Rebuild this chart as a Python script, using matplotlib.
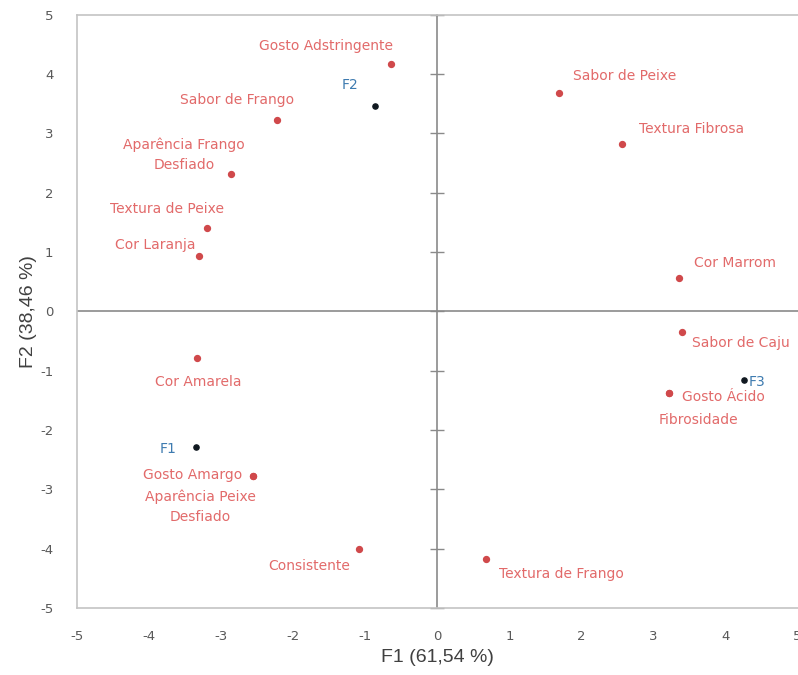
import matplotlib.pyplot as plt
import numpy as np

plt.rcParams['axes.unicode_minus'] = False

# Atributos sensoriais (pontos vermelhos)
atributos = ['Gosto Adstringente', 'Sabor de Frango', 'Aparência Frango\nDesfiado',
             'Textura de Peixe', 'Cor Laranja', 'Sabor de Peixe', 'Textura Fibrosa',
             'Cor Marrom', 'Sabor de Caju', 'Gosto Ácido', 'Fibrosidade',
             'Cor Amarela', 'Gosto Amargo', 'Aparência Peixe\nDesfiado',
             'Consistente', 'Textura de Frango']
atrib_f1 = [-0.64, -2.22, -2.86, -3.19, -3.31, 1.69, 2.56, 3.36, 3.40, 3.22, 3.22,
            -3.33, -2.56, -2.56, -1.08, 0.68]
atrib_f2 = [4.17, 3.22, 2.31, 1.40, 0.93, 3.69, 2.82, 0.56, -0.35, -1.38, -1.38,
            -0.79, -2.78, -2.78, -4.01, -4.17]

# Formulações (pontos pretos)
amostras = ['F1', 'F2', 'F3']
amostra_f1 = [-3.35, -0.86, 4.25]
amostra_f2 = [-2.28, 3.46, -1.15]

# deslocamento dos rótulos (pontos)
desloc_atrib = [(-47, 13), (-29, 15), (-34, 14), (-29, 14), (-31, 8), (47, 12),
                (50, 11), (40, 11), (42, -8), (39, -3), (21, -19),
                (1, -17), (-43, 1), (-38, -22), (-36, -12), (54, -11)]
desloc_amostra = [(-20, -2), (-18, 15), (10, -2)]

fig = plt.figure(figsize=(7.98, 6.75), dpi=100)
ax = fig.add_axes([0.0965, 0.0993, 0.903, 0.8787])

ax.set_xlim(-5, 5)
ax.set_ylim(-5, 5)
ax.set_xticks(np.arange(-5, 6, 1))
ax.set_yticks(np.arange(-5, 6, 1))

moldura = '#c4c4c4'
centro = '#8a8a8a'
for s in ['left', 'top', 'bottom']:
    ax.spines[s].set_color(moldura)
    ax.spines[s].set_linewidth(1.2)
# eixo vertical central com marcas
ax.spines['right'].set_position(('data', 0))
ax.spines['right'].set_color(centro)
ax.spines['right'].set_linewidth(1.2)
ax.axhline(0, color=centro, lw=1.2, zorder=1)

ax.tick_params(axis='y', left=False, right=True, labelleft=True, labelright=False,
               direction='inout', length=10, width=1.0, color=centro,
               labelsize=9.5, labelcolor='#595959', pad=12)
ax.tick_params(axis='x', bottom=False, labelsize=9.5, labelcolor='#595959', pad=12)

ax.scatter(atrib_f1, atrib_f2, s=18, color='#d0494b', zorder=3)
ax.scatter(amostra_f1, amostra_f2, s=14, color='#101820', zorder=3)

for nome, x, y, d in zip(atributos, atrib_f1, atrib_f2, desloc_atrib):
    ax.annotate(nome, (x, y), xytext=d, textcoords='offset points',
                ha='center', va='center', fontsize=10, color='#e26a6a',
                linespacing=1.5)
for nome, x, y, d in zip(amostras, amostra_f1, amostra_f2, desloc_amostra):
    ax.annotate(nome, (x, y), xytext=d, textcoords='offset points',
                ha='center', va='center', fontsize=10, color='#3e7bb0')

ax.set_xlabel('F1 (61,54 %)', fontsize=14, color='#404040',
              family='Liberation Sans', labelpad=5)
ax.set_ylabel('F2 (38,46 %)', fontsize=14, color='#404040',
              family='Liberation Sans', labelpad=2)

fig.savefig('out.png', dpi=100)
